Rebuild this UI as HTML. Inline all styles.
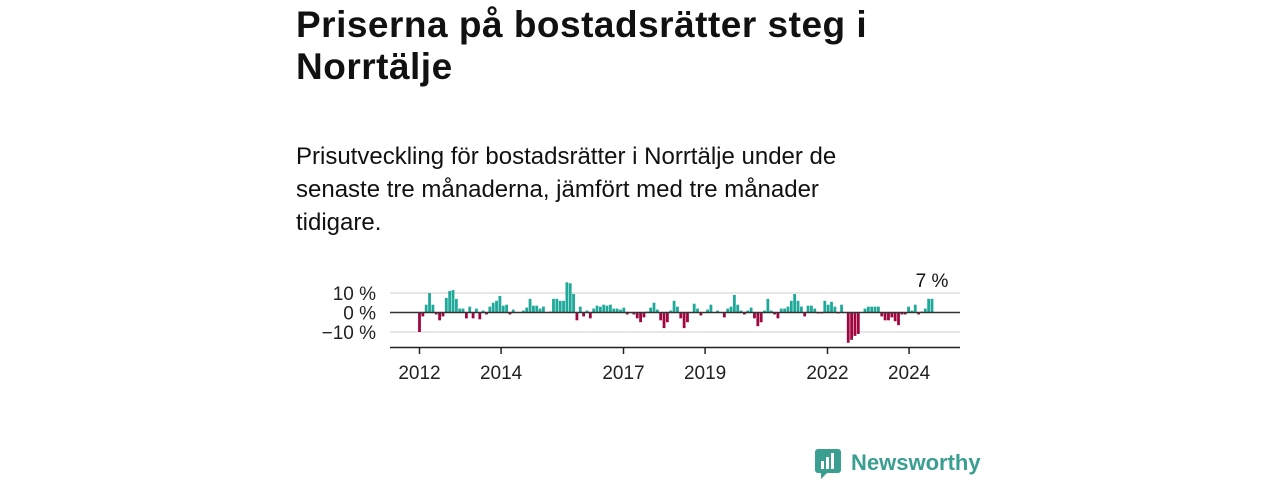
<!DOCTYPE html>
<html><head><meta charset="utf-8"><style>
body{margin:0;width:1280px;height:480px;background:#fff;font-family:"Liberation Sans",sans-serif;position:relative;overflow:hidden}
h1{position:absolute;left:296px;top:4px;margin:0;font-size:37px;letter-spacing:0.5px;line-height:42px;font-weight:bold;color:#111;width:640px}
p{position:absolute;left:296px;top:140px;margin:0;font-size:24px;line-height:33px;color:#111;width:600px}
</style></head><body>
<h1>Priserna på bostadsrätter steg i Norrtälje</h1>
<p>Prisutveckling för bostadsrätter i Norrtälje under de senaste tre månaderna, jämfört med tre månader tidigare.</p>
<svg id="chart" width="1280" height="480" style="position:absolute;left:0;top:0" font-family="Liberation Sans, sans-serif"></svg>
<div style="position:absolute;left:815px;top:446px;height:34px;display:flex;align-items:center">
<svg width="28" height="32"><rect x="0" y="2" width="26" height="24" rx="3" fill="#3a9e91"/><path d="M6 26 L6 32 L12 26Z" fill="#3a9e91"/><rect x="6" y="14" width="3" height="8" fill="#fff"/><rect x="11" y="10" width="3" height="12" fill="#fff"/><rect x="16" y="6" width="3" height="16" fill="#fff"/></svg>
<span style="font-size:22px;color:#3a9e91;margin-left:8px;font-weight:bold">Newsworthy</span></div>
<script>
const values=[-10,-2,4,10,4,-1,-4,-2,7.5,11,11.5,7,2,2,-3,3,-3,2,-3.5,1,-1,3,5,6,8.5,3.5,4,-1,1.5,0,0,1,2.5,7,3.5,3.5,2,3,0,0.5,7,7,6,6,15.5,15,9.5,-4,3,-2,1,-3,2,3.5,3,4,3.5,4,2,2,1.5,2.5,-1,0,-1,-3,-5,-2.5,0.5,2.5,5,1.5,-4,-8,-5,1,6,3,-3,-8,-5,0,4.5,2,-1.5,0,1.5,4,0,1,0,-2.5,2,3,9,4,1,-1,1,2.5,-3,-7,-5,1,7,1,-1,-3,2,2,3,6,9.5,6,3,-2,3.5,3.5,2,-0.5,-0.5,6,4,5.5,3,-0.5,4,0,-15.5,-14,-12,-11,0,2,3,3,3,3,-2,-4,-4,-2.5,-4.5,-6.5,-1,-1,3,1,4,-1,0.5,2,7,7];
const yTicks=[10,0,-10];
const yTickLabels=["10 %","0 %","−10 %"];
const years=[2012,2014,2017,2019,2022,2024];
const startYear=2012;
const svg=document.getElementById('chart');
const NS='http://www.w3.org/2000/svg';
const y=v=>312.5-v*1.95;
const step=(932-419.5)/(values.length-1);
const xm=m=>419.5+m*step;
const xy=yr=>419.5+(yr-startYear)*40.8;
function el(t,a){const e=document.createElementNS(NS,t);for(const k in a)e.setAttribute(k,a[k]);svg.appendChild(e);return e;}
yTicks.forEach((t,i)=>{
 if(t!==0){const g=el('line',{x1:390,x2:960,y1:y(t),y2:y(t),stroke:'#ddd','stroke-width':1.5});
 
 }
 const tx=el('text',{x:376,y:y(t)+7,'text-anchor':'end','font-size':19,fill:'#222'});tx.textContent=yTickLabels[i];
 
 
});
values.forEach((v,m)=>{
 const r=el('rect',{x:xm(m)-1.4,width:2.8,y:Math.min(y(v),y(0)),height:Math.abs(y(v)-y(0)),fill:v>=0?'#1fa99a':'#a0073f'});
 
 
});
const z=el('line',{x1:390,x2:960,y1:y(0),y2:y(0),stroke:'#333','stroke-width':1.5});


const ax=el('line',{x1:390,x2:960,y1:347.5,y2:347.5,stroke:'#222','stroke-width':1.5});


years.forEach(yr=>{
 const tk=el('line',{x1:xy(yr),x2:xy(yr),y1:347,y2:354,stroke:'#222','stroke-width':1.5});
 
 
 const t=el('text',{x:xy(yr),y:379,'text-anchor':'middle','font-size':19,fill:'#222'});t.textContent=yr;
 
 
});
const last=values.length-1;
const lb=el('text',{x:xm(last),y:287,'text-anchor':'middle','font-size':19,fill:'#111'});lb.textContent=Math.round(values[last])+' %';


</script>
</body></html>
